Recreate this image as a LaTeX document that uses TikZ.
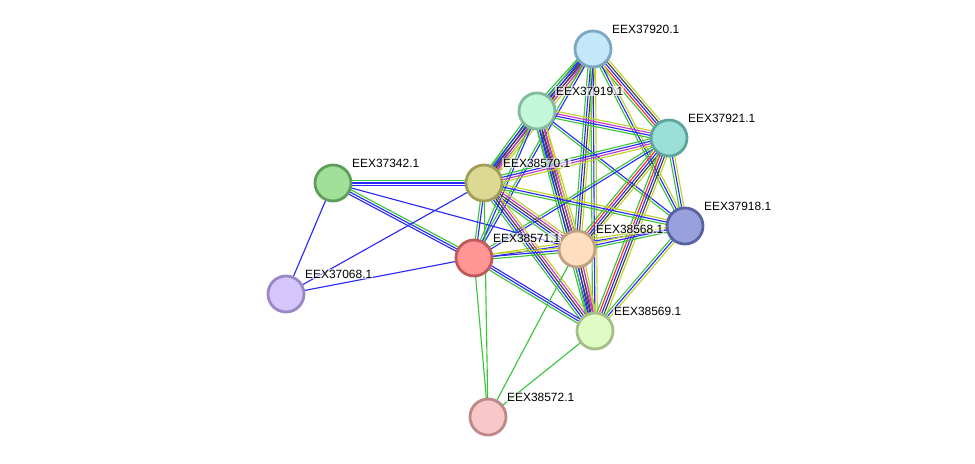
\documentclass[tikz,border=0pt]{standalone}
\usepackage{fontspec}
\setmainfont{Liberation Sans}
\usetikzlibrary{calc,backgrounds}

% evidence colours
\definecolor{eG}{RGB}{58,196,58}
\definecolor{eR}{RGB}{250,40,40}
\definecolor{eB}{RGB}{40,40,250}
\definecolor{eK}{RGB}{64,64,64}
\definecolor{eM}{RGB}{204,50,204}
\definecolor{eY}{RGB}{190,210,40}

% protein colours
\definecolor{f37920}{HTML}{C4E8FA}\definecolor{b37920}{HTML}{7BA7C2}
\definecolor{f37919}{HTML}{C2F7DA}\definecolor{b37919}{HTML}{82BB9C}
\definecolor{f37921}{HTML}{9BE0D6}\definecolor{b37921}{HTML}{5EA59E}
\definecolor{f37342}{HTML}{A1E099}\definecolor{b37342}{HTML}{5E9E5A}
\definecolor{f38570}{HTML}{DCD995}\definecolor{b38570}{HTML}{A19E5A}
\definecolor{f37918}{HTML}{99A1DD}\definecolor{b37918}{HTML}{5A63A2}
\definecolor{f38571}{HTML}{FF9595}\definecolor{b38571}{HTML}{C05A5A}
\definecolor{f38568}{HTML}{FFDEC0}\definecolor{b38568}{HTML}{BFA080}
\definecolor{f37068}{HTML}{D5C5FD}\definecolor{b37068}{HTML}{9988C3}
\definecolor{f38569}{HTML}{E0FCC5}\definecolor{b38569}{HTML}{A5BD88}
\definecolor{f38572}{HTML}{F8C8C8}\definecolor{b38572}{HTML}{BC8888}

\begin{document}
\begin{tikzpicture}[
    x=0.025cm, y=-0.025cm,
    prot/.style={circle, line width=2pt, minimum size=0.9cm, inner sep=0pt},
    lbl/.style={font=\fontsize{8.5}{10}\selectfont, anchor=base west, inner sep=0.6pt, fill=white, fill opacity=0.6, text opacity=1},
    link/.style={line width=0.8pt}
]
\useasboundingbox (0,0) rectangle (975,463);

% Protein Nodes
\node[prot, draw=b37920, fill=f37920] (e37920) at (593,49) {};
\node[prot, draw=b37919, fill=f37919] (e37919) at (537,111) {};
\node[prot, draw=b37921, fill=f37921] (e37921) at (669,138) {};
\node[prot, draw=b37342, fill=f37342] (e37342) at (333,183) {};
\node[prot, draw=b38570, fill=f38570] (e38570) at (484,183) {};
\node[prot, draw=b37918, fill=f37918] (e37918) at (685,226) {};
\node[prot, draw=b38571, fill=f38571] (e38571) at (474,258) {};
\node[prot, draw=b38568, fill=f38568] (e38568) at (577,249) {};
\node[prot, draw=b37068, fill=f37068] (e37068) at (286,294) {};
\node[prot, draw=b38569, fill=f38569] (e38569) at (595,331) {};
\node[prot, draw=b38572, fill=f38572] (e38572) at (488,417) {};

% Labels
\node[lbl] (l37920) at (611,33) {EEX37920.1};
\node[lbl] (l37919) at (555,95) {EEX37919.1};
\node[lbl] (l37921) at (687,122) {EEX37921.1};
\node[lbl] (l37342) at (351,167) {EEX37342.1};
\node[lbl] (l38570) at (502,167) {EEX38570.1};
\node[lbl] (l37918) at (703,210) {EEX37918.1};
\node[lbl] (l38571) at (492,242) {EEX38571.1};
\node[lbl] (l38568) at (595,233) {EEX38568.1};
\node[lbl] (l37068) at (304,278) {EEX37068.1};
\node[lbl] (l38569) at (613,315) {EEX38569.1};
\node[lbl] (l38572) at (506,401) {EEX38572.1};

% Interactions (parallel evidence lines)
\begin{scope}[on background layer]
\foreach \a/\b/\n/\cols in {
    e37920/e37921/5/{eG,eR,eB,eK,eY},
    e37920/e37919/5/{eG,eB,eK,eM,eY},
    e37920/e38570/5/{eG,eB,eK,eM,eY},
    e37920/e38571/2/{eG,eB},
    e37920/e38568/4/{eG,eB,eK,eY},
    e37920/e38569/3/{eG,eB,eY},
    e37920/e37918/3/{eG,eB,eY},
    e37919/e37921/4/{eG,eB,eM,eY},
    e37919/e37918/2/{eG,eB},
    e37919/e38570/5/{eG,eB,eK,eM,eY},
    e37919/e38571/2/{eG,eB},
    e37919/e38568/5/{eG,eB,eK,eM,eY},
    e37919/e38569/5/{eG,eB,eK,eM,eY},
    e37921/e38570/4/{eG,eB,eM,eY},
    e37921/e38571/2/{eG,eB},
    e37921/e38568/5/{eG,eR,eB,eK,eY},
    e37921/e38569/5/{eG,eR,eB,eK,eY},
    e37921/e37918/3/{eG,eB,eY},
    e38570/e37918/3/{eG,eB,eY},
    e38571/e37918/2/{eB,eY},
    e38568/e37918/3/{eG,eB,eY},
    e37918/e38569/3/{eG,eB,eY},
    e38570/e38571/2/{eG,eB},
    e38570/e38568/5/{eG,eB,eK,eM,eY},
    e38570/e38569/5/{eG,eB,eK,eM,eY},
    e38571/e38568/3/{eG,eB,eY},
    e38571/e38569/3/{eG,eB,eB},
    e38568/e38569/5/{eG,eB,eK,eM,eY},
    e37342/e38570/3/{eB,eB,eG},
    e37342/e38571/3/{eB,eB,eG},
    e37342/e38568/1/{eB},
    e37342/e37068/1/{eB},
    e37068/e38570/1/{eB},
    e37068/e38571/1/{eB},
    e38572/e38571/1/{eG},
    e38572/e38570/1/{eG},
    e38572/e38568/1/{eG},
    e38572/e38569/1/{eG}}{
  \foreach \c [count=\i] in \cols {
    \pgfmathsetmacro\o{(\i-(\n+1)/2)*1.7}
    \draw[link, \c] ($(\a)!\o pt!90:(\b)$) -- ($(\b)!\o pt!-90:(\a)$);
  }
}
\end{scope}

\end{tikzpicture}
\end{document}
